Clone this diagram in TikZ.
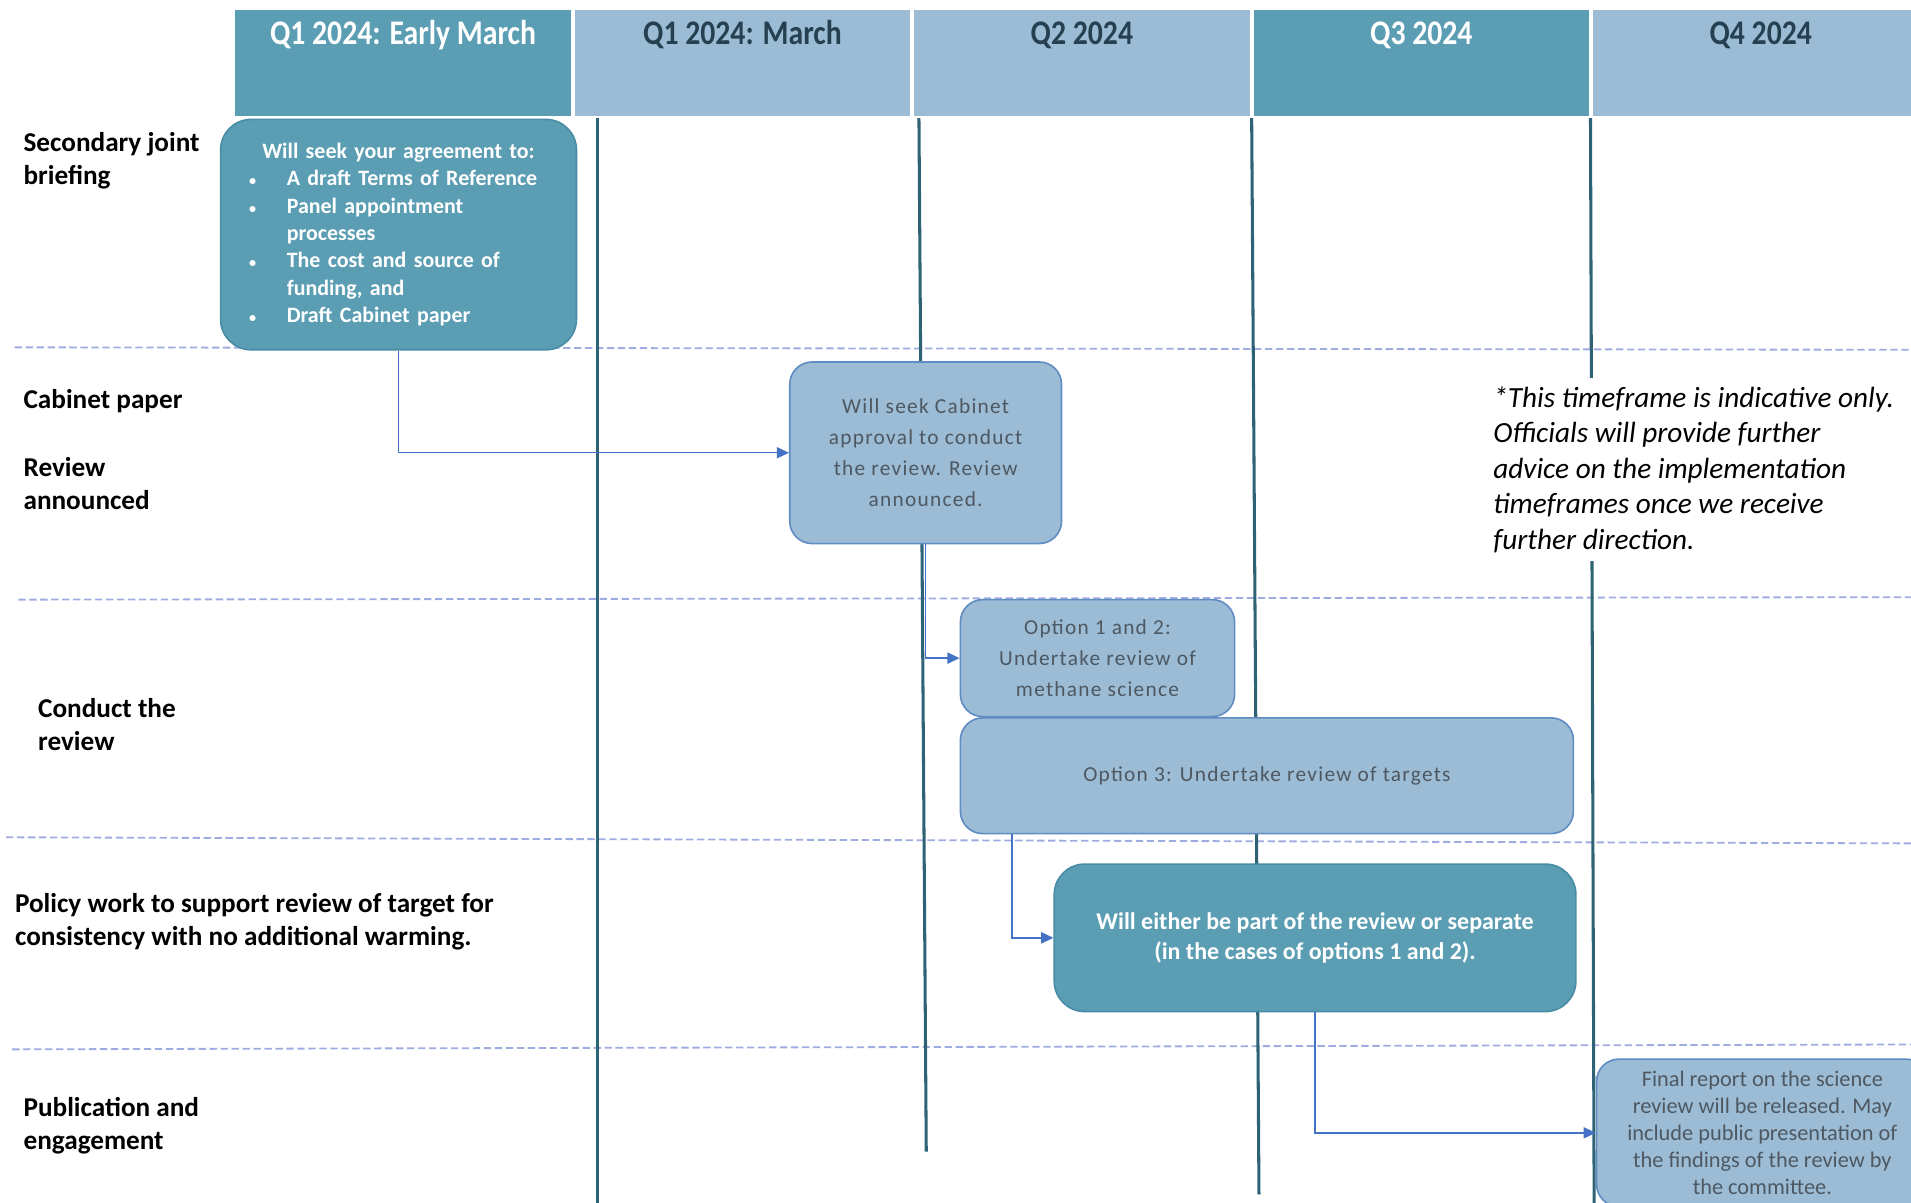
\documentclass[tikz,border=0pt]{standalone}
\usepackage{fontspec}
\setmainfont{Carlito}
\newfontfamily\headfont[FakeStretch=0.86]{Carlito}
\newfontfamily\boxfont[LetterSpace=6]{Carlito}
\usetikzlibrary{positioning,arrows.meta,calc}
\definecolor{TealDark}{RGB}{91,158,179}
\definecolor{BlueLight}{RGB}{155,188,212}
\definecolor{DividerLine}{RGB}{46,99,118}
\definecolor{DashLine}{RGB}{158,172,226}
\definecolor{ArrowBlue}{RGB}{68,114,196}
\definecolor{LightBorder}{RGB}{96,140,196}
\definecolor{DarkBorder}{RGB}{72,140,165}
\definecolor{HeadText}{RGB}{38,64,82}
\definecolor{BoxText}{RGB}{78,88,98}
\newcommand{\bul}{\makebox[15pt][l]{\hspace*{-3.5pt}\scriptsize\textbullet}}
\newcommand{\ind}{\hspace*{15pt}}

\begin{document}
\begin{tikzpicture}[x=0.6pt, y=-0.6pt,
    head/.style={rectangle, minimum width=165.2pt, minimum height=52.2pt, inner ysep=0pt,
        text height=12pt, text depth=30pt, font=\headfont\bfseries\fontsize{17}{20}\selectfont},
    headdark/.style={head, fill=TealDark, text=white},
    headlight/.style={head, fill=BlueLight, text=HeadText},
    rowlabel/.style={anchor=west, inner sep=0pt, align=left,
        font=\bfseries\fontsize{13.4}{16.2}\selectfont},
    darkbox/.style={rectangle, rounded corners=15pt, draw=DarkBorder, line width=0.8pt,
        fill=TealDark, text=white, font=\bfseries\fontsize{10.8}{13.5}\selectfont},
    lightbox/.style={rectangle, rounded corners=11pt, draw=LightBorder, line width=0.8pt,
        fill=BlueLight, text=BoxText, align=center, font=\boxfont\fontsize{10.5}{15.2}\selectfont},
    divider/.style={DividerLine, line width=1.5pt},
    lane/.style={DashLine, line width=0.9pt, dash pattern=on 3.6pt off 1.8pt},
    link/.style={ArrowBlue, line width=0.7pt, -{Triangle[length=6pt, width=5.5pt]}},
]
\useasboundingbox (0,0) rectangle (1568,987);

% quarter headers
\node[headdark] (h1) at (330.7,51.5) {Q1 2024: Early March};
\node[headlight, right=1.5pt of h1] (h2) {Q1 2024: March};
\node[headlight, right=1.5pt of h2] (h3) {Q2 2024};
\node[headdark, right=1.5pt of h3] (h4) {Q3 2024};
\node[headlight, right=1.5pt of h4] (h5) {Q4 2024};

% swim lanes and dividers
\draw[lane] (12,285) -- (1568,287);
\draw[lane] (15,492) -- (1568,490);
\draw[lane] (5,687) -- (1568,692);
\draw[lane] (10,861) -- (1568,857);
\draw[divider] (490,97) -- (490,987);
\draw[divider] (754,97) -- (760,945);
\draw[divider] (1027,97) -- (1033,980);
\draw[divider] (1305,97) -- (1308,987);

% row labels
\node[rowlabel] (r1) at (19,132) {Secondary joint\\briefing};
\node[rowlabel] (r2) at (19,329.5) {Cabinet paper};
\node[rowlabel] (r3) at (19,396.5) {Review\\announced};
\node[rowlabel] (r4) at (31,594.5) {Conduct the\\review};
\node[rowlabel] (r5) at (12,756.5) {Policy work to support review of target for\\consistency with no additional warming.};
\node[rowlabel] (r6) at (19,923.5) {Publication and\\engagement};

% activities
\node[darkbox, minimum width=175.2pt, minimum height=113.4pt, text width=140pt, align=left] (b1) at (327,192.5)
    {\makebox[140pt]{Will seek your agreement to:}\\ \bul A draft Terms of Reference\\ \bul Panel appointment\\ \ind processes\\
     \bul The cost and source of\\ \ind funding, and\\ \bul Draft Cabinet paper};
\node[lightbox, minimum width=133.8pt, minimum height=89.4pt] (b2) at (759.5,371.5)
    {Will seek Cabinet\\approval to conduct\\the review. Review\\announced.};
\node[lightbox, minimum width=135pt, minimum height=57.6pt, inner sep=2pt] (b3) at (900.5,540)
    {Option 1 and 2:\\Undertake review of\\methane science};
\node[lightbox, minimum width=301.8pt, minimum height=57pt] (b4) at (1039.5,636.5)
    {Option 3: Undertake review of targets};
\node[darkbox, minimum width=256.8pt, minimum height=72.6pt, align=center,
    font=\bfseries\fontsize{11.8}{15}\selectfont] (b5) at (1079,769.5)
    {Will either be part of the review or separate\\(in the cases of options 1 and 2).};
\node[lightbox, minimum width=163.2pt, minimum height=72.6pt, inner sep=2pt,
    font=\fontsize{11}{13.35}\selectfont] (b6) at (1446,929.5)
    {Final report on the science\\review will be released. May\\include public presentation of\\the findings of the review by\\the committee.};

\node[anchor=north west, fill=white, inner xsep=3.6pt, inner ysep=4pt, align=left,
    font=\itshape\fontsize{14.4}{17.5}\selectfont] (note) at (1219,310)
    {*This timeframe is indicative only.\\Officials will provide further\\advice on the implementation\\timeframes once we receive\\further direction.};

% flow
\draw[link] (b1.south) |- (b2.west);
\draw[link] (b2.south) |- (b3.west);
\draw[link] ($(b4.south west)+(43,0)$) |- (b5.west);
\draw[link] (b5.south) |- (b6.west);
\end{tikzpicture}
\end{document}
